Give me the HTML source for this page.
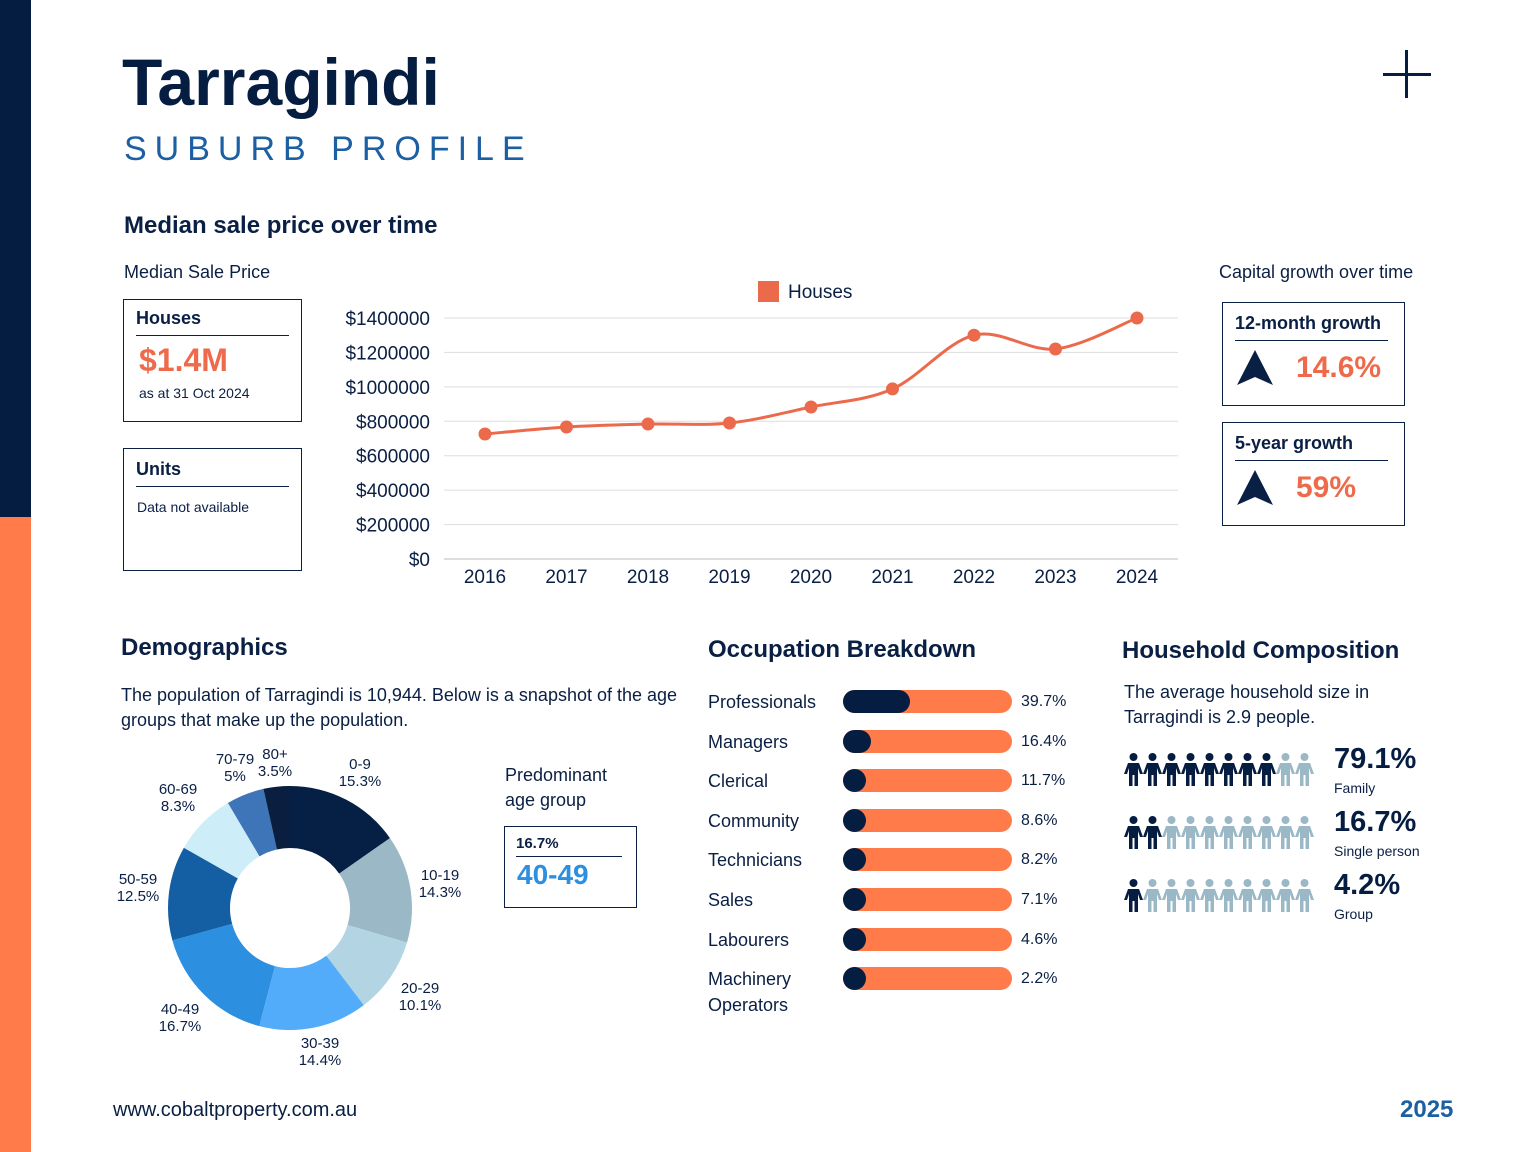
<!DOCTYPE html>
<html><head><meta charset="utf-8">
<style>
*{margin:0;padding:0;box-sizing:border-box}
body{width:1536px;height:1152px;position:relative;background:#fff;font-family:"Liberation Sans",sans-serif;color:#0a1f44;overflow:hidden}
.abs{position:absolute}
.box{position:absolute;border:1.5px solid #0a1f44;background:#fff}
.box .t{font-weight:bold;font-size:18px;margin:10px 12px 0;padding-bottom:6px;border-bottom:1.5px solid #0a1f44}
h2{position:absolute;font-size:24px;font-weight:bold;color:#0a1f44}
.lbl{font-size:18px}
</style></head><body>
<div class="abs" style="left:0;top:0;width:31px;height:517px;background:#061d42"></div>
<div class="abs" style="left:0;top:517px;width:31px;height:635px;background:#ff7c4a"></div>
<div class="abs" style="left:122px;top:44px;font-size:66px;font-weight:bold;color:#061d42">Tarragindi</div>
<div class="abs" style="left:124px;top:130px;font-size:34px;letter-spacing:8px;color:#1c5fa3">SUBURB PROFILE</div>
<div class="abs" style="left:1383px;top:73px;width:48px;height:3px;background:#061d42"></div>
<div class="abs" style="left:1405px;top:50px;width:3px;height:48px;background:#061d42"></div>

<h2 style="left:124px;top:212px">Median sale price over time</h2>
<div class="abs lbl" style="left:124px;top:262px">Median Sale Price</div>
<div class="box" style="left:123px;top:299px;width:179px;height:123px">
<div class="t" style="margin-top:8px">Houses</div>
<div style="color:#ef6a4b;font-weight:bold;font-size:32px;margin:6px 0 0 15px">$1.4M</div>
<div style="font-size:14px;margin:6px 0 0 15px">as at 31 Oct 2024</div></div>
<div class="box" style="left:123px;top:448px;width:179px;height:123px">
<div class="t">Units</div>
<div style="font-size:14px;margin:12px 0 0 13px">Data not available</div></div>

<div class="abs lbl" style="left:1219px;top:262px">Capital growth over time</div>
<div class="box" style="left:1222px;top:302px;width:183px;height:104px">
<div class="t" style="margin-right:16px">12-month growth</div>
<svg class="abs" style="left:12px;top:45px" width="40" height="40"><polygon points="20,2 38,37 20,29 2,37" fill="#0a1f44"/></svg>
<div class="abs" style="left:73px;top:48px;color:#ef6a4b;font-weight:bold;font-size:30px">14.6%</div></div>
<div class="box" style="left:1222px;top:422px;width:183px;height:104px">
<div class="t" style="margin-right:16px">5-year growth</div>
<svg class="abs" style="left:12px;top:45px" width="40" height="40"><polygon points="20,2 38,37 20,29 2,37" fill="#0a1f44"/></svg>
<div class="abs" style="left:73px;top:48px;color:#ef6a4b;font-weight:bold;font-size:30px">59%</div></div>

<svg class="abs" style="left:0;top:0" width="1536" height="600" id="lc"></svg>

<h2 style="left:121px;top:634px">Demographics</h2>
<div class="abs lbl" style="left:121px;top:683px;width:570px;line-height:25px">The population of Tarragindi is 10,944. Below is a snapshot of the age groups that make up the population.</div>
<svg class="abs" style="left:0;top:0" width="700" height="1100" id="dc"></svg>
<div class="abs lbl" style="left:505px;top:763px;line-height:25px">Predominant<br>age group</div>
<div class="box" style="left:504px;top:826px;width:133px;height:82px">
<div class="t" style="font-size:15px;margin:8px 14px 0 11px;padding-bottom:4px">16.7%</div>
<div style="color:#2d8fe0;font-weight:bold;font-size:28px;margin:2px 0 0 12px">40-49</div></div>

<h2 style="left:708px;top:636px">Occupation Breakdown</h2>
<div id="occ"></div>

<h2 style="left:1122px;top:637px">Household Composition</h2>
<div class="abs lbl" style="left:1124px;top:680px;line-height:25px">The average household size in<br>Tarragindi is 2.9 people.</div>
<div id="hh"></div>

<div class="abs" style="left:113px;top:1099px;font-size:20px">www.cobaltproperty.com.au</div>
<div class="abs" style="left:1400px;top:1096px;font-size:24px;font-weight:bold;color:#1c5fa3">2025</div>

<script>
const years=['2016','2017','2018','2019','2020','2021','2022','2023','2024'];
const prices=[726000,767000,784000,790000,883000,988000,1300000,1220000,1400000];
const yTicks=[0,200000,400000,600000,800000,1000000,1200000,1400000];
const ageLabels=['0-9','10-19','20-29','30-39','40-49','50-59','60-69','70-79','80+'];
const agePct=[15.3,14.3,10.1,14.4,16.7,12.5,8.3,5,3.5];
const occNames=['Professionals','Managers','Clerical','Community','Technicians','Sales','Labourers','Machinery Operators'];
const occPct=[39.7,16.4,11.7,8.6,8.2,7.1,4.6,2.2];
const hhNames=['Family','Single person','Group'];
const hhPct=[79.1,16.7,4.2];
const NS='http://www.w3.org/2000/svg';
function mk(p,t,a,txt){const e=document.createElementNS(NS,t);for(const k in a)e.setAttribute(k,a[k]);if(txt!=null)e.textContent=txt;p.appendChild(e);return e;}
const lc=document.getElementById('lc');
const X=i=>485+i*(1137-485)/(years.length-1);
const Y=v=>559-v/1400000*241;
yTicks.forEach(v=>{
 const l=mk(lc,'line',{x1:444,x2:1178,y1:Y(v),y2:Y(v),stroke:v?'#ddd':'#bbb','stroke-width':1});
 
 const t=mk(lc,'text',{x:430,y:Y(v)+7,'text-anchor':'end','font-size':19,fill:'#0a1f44'},'$'+v);
 
});
years.forEach((y,i)=>{const t=mk(lc,'text',{x:X(i),y:583,'text-anchor':'middle','font-size':19,fill:'#0a1f44'},y);
 });
const pts=prices.map((v,i)=>[X(i),Y(v)]);
let d='M'+pts[0];
for(let i=0;i<pts.length-1;i++){const p0=pts[i-1]||pts[i],p1=pts[i],p2=pts[i+1],p3=pts[i+2]||p2;
 d+=` C${p1[0]+(p2[0]-p0[0])/6},${p1[1]+(p2[1]-p0[1])/6} ${p2[0]-(p3[0]-p1[0])/6},${p2[1]-(p3[1]-p1[1])/6} ${p2[0]},${p2[1]}`;}
const ln=mk(lc,'path',{d:d,fill:'none',stroke:'#ec6a4c','stroke-width':3});

pts.forEach(p=>{const c=mk(lc,'circle',{cx:p[0],cy:p[1],r:6.5,fill:'#ec6a4c'});
 });
const lg=mk(lc,'rect',{x:758,y:281,width:21,height:21,fill:'#ec6a4c'});

const lt=mk(lc,'text',{x:788,y:298,'font-size':19,fill:'#0a1f44'},'Houses');

const dc=document.getElementById('dc');
const cols=['#061f44','#9ab8c6','#b3d4e2','#52acfa','#2d8fe0','#145fa3','#cdeef8','#3e74b8','#0a1e3f'];
const cx=290,cy=908,R=122,r=60,tot=agePct.reduce((a,b)=>a+b,0);
const lpos=[[360,775],[440,886],[420,999],[320,1054],[180,1020],[138,890],[178,800],[235,770],[275,765]];
let a0=-Math.PI/2;
agePct.forEach((v,i)=>{const a1=a0+v/tot*2*Math.PI,la=(a1-a0)>Math.PI?1:0;
 const P=(rad,a)=>[cx+rad*Math.cos(a),cy+rad*Math.sin(a)];
 const [x1,y1]=P(R,a0),[x2,y2]=P(R,a1),[x3,y3]=P(r,a1),[x4,y4]=P(r,a0);
 const s=mk(dc,'path',{d:`M${x1},${y1}A${R},${R} 0 ${la} 1 ${x2},${y2}L${x3},${y3}A${r},${r} 0 ${la} 0 ${x4},${y4}Z`,fill:cols[i]});
 
 const t=mk(dc,'text',{x:lpos[i][0],y:lpos[i][1]-6,'text-anchor':'middle','font-size':15,fill:'#0a1f44'});
 
 mk(t,'tspan',{x:lpos[i][0],dy:0},ageLabels[i]);mk(t,'tspan',{x:lpos[i][0],dy:17},agePct[i]+'%');
 a0=a1;});
const occ=document.getElementById('occ');
occNames.forEach((n,i)=>{const y=690+i*39.6;
 const lab=document.createElement('div');lab.className='abs lbl';lab.style.cssText=`left:708px;top:${y-1}px;line-height:26px;width:130px`;lab.innerHTML=n==='Machinery Operators'?'Machinery<br>Operators':n;
 occ.appendChild(lab);
 const bar=document.createElement('div');bar.className='abs';bar.style.cssText=`left:843px;top:${y}px;width:169px;height:23px;border-radius:12px;background:#ff7c4a`;
 
 const f=document.createElement('div');f.style.cssText=`width:${Math.max(23,occPct[i]/100*169)}px;height:23px;border-radius:12px;background:#061d42`;
 bar.appendChild(f);occ.appendChild(bar);
 const v=document.createElement('div');v.className='abs';v.style.cssText=`left:1021px;top:${y+3}px;font-size:16px`;v.textContent=occPct[i]+'%';
 occ.appendChild(v);});
const hh=document.getElementById('hh');
const person=c=>`<svg width="19" height="33" viewBox="0 0 19 33"><circle cx="9.5" cy="4" r="4" fill="${c}"/><path d="M4,10h11l4,11h-3l-2,-6v18h-3.5v-11h-2v11H5v-18l-2,6H0z" fill="${c}"/></svg>`;
hhNames.forEach((n,i)=>{const y=753+i*63;
 const row=document.createElement('div');row.className='abs';row.style.cssText=`left:1124px;top:${y}px;display:flex;gap:0`;
 
 const dark=Math.round(hhPct[i]/10);let h='';for(let k=0;k<10;k++)h+=person(k<Math.max(1,dark)?'#061d42':'#9ab8c6');row.innerHTML=h;hh.appendChild(row);
 const p=document.createElement('div');p.className='abs';p.style.cssText=`left:1334px;top:${y-10}px;font-size:29px;font-weight:bold;color:#061d42`;p.textContent=hhPct[i]+'%';
 hh.appendChild(p);
 const l=document.createElement('div');l.className='abs';l.style.cssText=`left:1334px;top:${y+27}px;font-size:14px`;l.textContent=n;
 hh.appendChild(l);});
</script>
</body></html>
